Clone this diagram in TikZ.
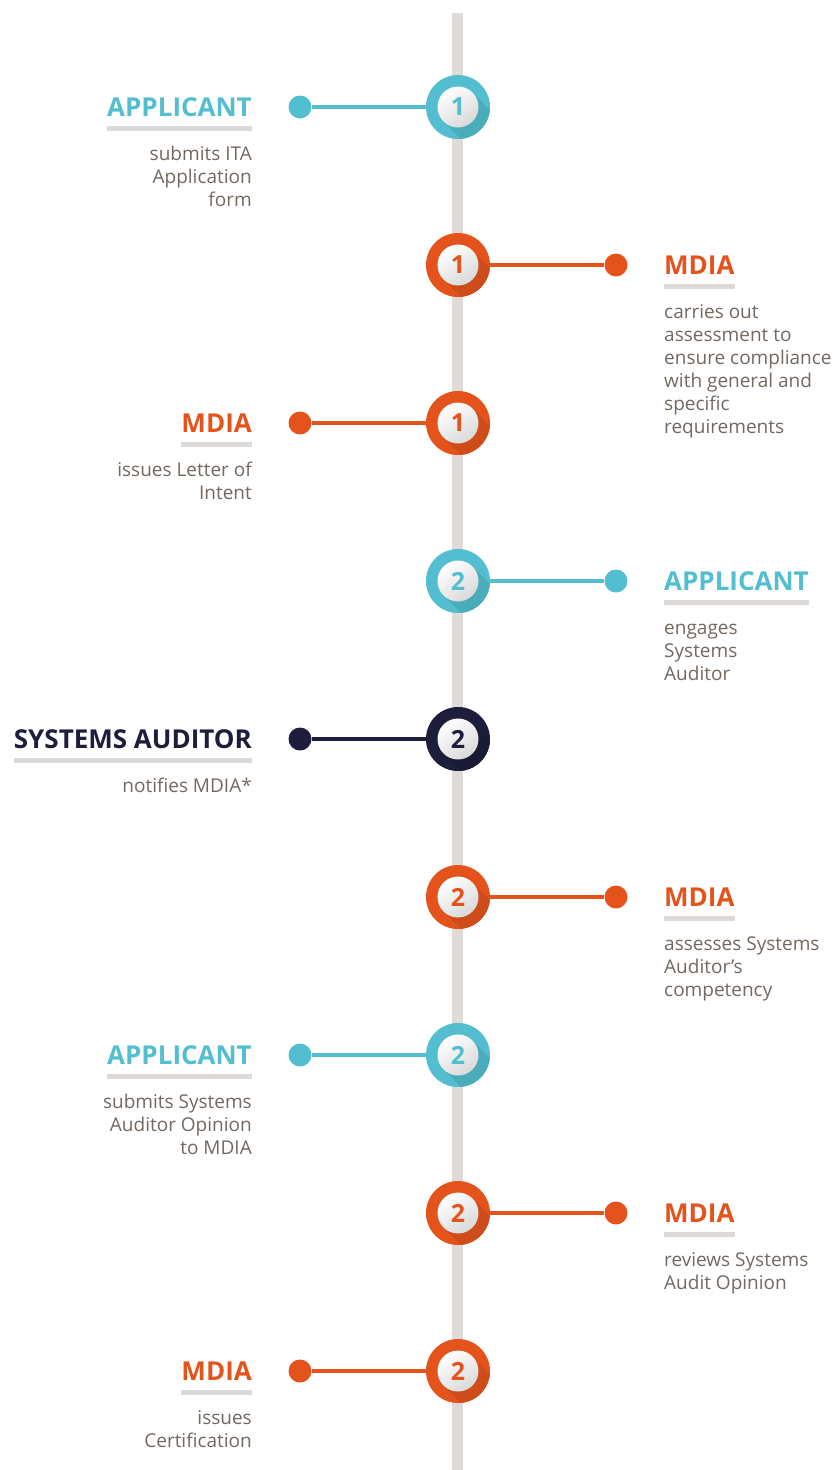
\documentclass[tikz,border=0pt]{standalone}
\usepackage{fontspec}
\setmainfont{Open Sans}
\usetikzlibrary{calc}

\definecolor{appcyan}{RGB}{82,190,207}
\definecolor{mdiaorange}{RGB}{229,83,29}
\definecolor{auditnavy}{RGB}{28,30,59}
\definecolor{spinegrey}{RGB}{222,219,217}
\definecolor{bargrey}{RGB}{221,217,214}
\definecolor{bodygrey}{RGB}{114,104,95}

\tikzset{
  stepring/.style={circle, fill=#1, minimum size=64pt, inner sep=0pt},
  stepface/.style={circle, minimum size=41pt, inner sep=0pt, top color=white,
    bottom color=black!15, shading angle=35, text=#1,
    font=\fontsize{25}{25}\bfseries\selectfont},
  stepknob/.style={circle, fill=#1, minimum size=23pt, inner sep=0pt},
  steplink/.style={draw=#1, line width=4.5pt},
  steprole/.style={inner sep=0pt, text=#1, font=\fontsize{26}{26}\bfseries\selectfont},
  rolebar/.style={draw=bargrey, line width=5pt},
  steptask/.style={inner sep=0pt, text=bodygrey, font=\fontsize{19}{23}\selectfont},
}

% ring with long shadow and numbered face
\newcommand\stepmark[4]{%
  \node[stepring=#2] (#1) at (458,-#3) {};
  \begin{scope}
    \clip (#1.center) circle (32pt);
    \fill[#2!90!black] ($(#1.center)+(45:20.5pt)$) -- ++(-45:60pt) -- ++(225:41pt)
      -- ($(#1.center)+(225:20.5pt)$) -- cycle;
  \end{scope}
  \node[stepface=#2] (#1f) at (#1) {#4};
}

\begin{document}
\begin{tikzpicture}[x=1pt,y=1pt]
\useasboundingbox (0,0) rectangle (838,-1470);
\coordinate (top) at (457.5,-13);
\coordinate (bottom) at (457.5,-1470);
\draw[spinegrey, line width=11.5pt] (top) -- (bottom);

% 1 applicant
\stepmark{s1}{appcyan}{107}{1}
\node[stepknob=appcyan] (k1) at (300,-107) {};
\draw[steplink=appcyan] (s1) -- (k1);
\node[steprole=appcyan, anchor=base east] (r1) at (252,-116) {APPLICANT};
\draw[rolebar] ($(r1.base west)+(0,-12)$) -- ($(r1.base east)+(0,-12)$);
\node[steptask, align=right, anchor=north east] (t1) at (252,-144) {\strut submits ITA\\Application\\form};

% 1 mdia assessment
\stepmark{s2}{mdiaorange}{265}{1}
\node[stepknob=mdiaorange] (k2) at (616,-265) {};
\draw[steplink=mdiaorange] (s2) -- (k2);
\node[steprole=mdiaorange, anchor=base west] (r2) at (664,-274) {MDIA};
\draw[rolebar] ($(r2.base west)+(0,-12)$) -- ($(r2.base east)+(0,-12)$);
\node[steptask, align=left, anchor=north west] (t2) at (664,-302) {\strut carries out\\assessment to\\ensure compliance\\with general and\\specific\\requirements};

% 1 mdia letter
\stepmark{s3}{mdiaorange}{423}{1}
\node[stepknob=mdiaorange] (k3) at (300,-423) {};
\draw[steplink=mdiaorange] (s3) -- (k3);
\node[steprole=mdiaorange, anchor=base east] (r3) at (252,-432) {MDIA};
\draw[rolebar] ($(r3.base west)+(0,-12)$) -- ($(r3.base east)+(0,-12)$);
\node[steptask, align=right, anchor=north east] (t3) at (252,-460) {\strut issues Letter of\\Intent};

% 2 applicant engages
\stepmark{s4}{appcyan}{581}{2}
\node[stepknob=appcyan] (k4) at (616,-581) {};
\draw[steplink=appcyan] (s4) -- (k4);
\node[steprole=appcyan, anchor=base west] (r4) at (664,-590) {APPLICANT};
\draw[rolebar] ($(r4.base west)+(0,-12)$) -- ($(r4.base east)+(0,-12)$);
\node[steptask, align=left, anchor=north west] (t4) at (664,-618) {\strut engages\\Systems\\Auditor};

% 2 systems auditor
\stepmark{s5}{auditnavy}{739}{2}
\node[stepknob=auditnavy] (k5) at (300,-739) {};
\draw[steplink=auditnavy] (s5) -- (k5);
\node[steprole=auditnavy, anchor=base east] (r5) at (252,-748) {SYSTEMS AUDITOR};
\draw[rolebar] ($(r5.base west)+(0,-12)$) -- ($(r5.base east)+(0,-12)$);
\node[steptask, align=right, anchor=north east] (t5) at (252,-776) {\strut notifies MDIA*};

% 2 mdia assesses
\stepmark{s6}{mdiaorange}{897}{2}
\node[stepknob=mdiaorange] (k6) at (616,-897) {};
\draw[steplink=mdiaorange] (s6) -- (k6);
\node[steprole=mdiaorange, anchor=base west] (r6) at (664,-906) {MDIA};
\draw[rolebar] ($(r6.base west)+(0,-12)$) -- ($(r6.base east)+(0,-12)$);
\node[steptask, align=left, anchor=north west] (t6) at (664,-934) {\strut assesses Systems\\Auditor’s\\competency};

% 2 applicant submits opinion
\stepmark{s7}{appcyan}{1055}{2}
\node[stepknob=appcyan] (k7) at (300,-1055) {};
\draw[steplink=appcyan] (s7) -- (k7);
\node[steprole=appcyan, anchor=base east] (r7) at (252,-1064) {APPLICANT};
\draw[rolebar] ($(r7.base west)+(0,-12)$) -- ($(r7.base east)+(0,-12)$);
\node[steptask, align=right, anchor=north east] (t7) at (252,-1092) {\strut submits Systems\\Auditor Opinion\\to MDIA};

% 2 mdia reviews
\stepmark{s8}{mdiaorange}{1213}{2}
\node[stepknob=mdiaorange] (k8) at (616,-1213) {};
\draw[steplink=mdiaorange] (s8) -- (k8);
\node[steprole=mdiaorange, anchor=base west] (r8) at (664,-1222) {MDIA};
\draw[rolebar] ($(r8.base west)+(0,-12)$) -- ($(r8.base east)+(0,-12)$);
\node[steptask, align=left, anchor=north west] (t8) at (664,-1250) {\strut reviews Systems\\Audit Opinion};

% 2 mdia certification
\stepmark{s9}{mdiaorange}{1371}{2}
\node[stepknob=mdiaorange] (k9) at (300,-1371) {};
\draw[steplink=mdiaorange] (s9) -- (k9);
\node[steprole=mdiaorange, anchor=base east] (r9) at (252,-1380) {MDIA};
\draw[rolebar] ($(r9.base west)+(0,-12)$) -- ($(r9.base east)+(0,-12)$);
\node[steptask, align=right, anchor=north east] (t9) at (252,-1408) {\strut issues\\Certification};
\end{tikzpicture}
\end{document}
